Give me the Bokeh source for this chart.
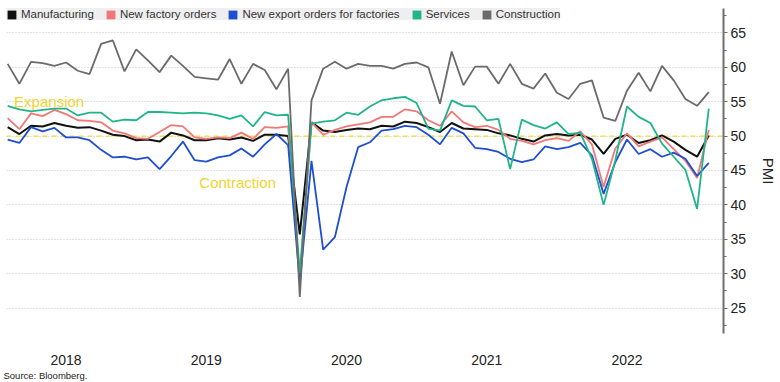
from bokeh.plotting import figure
from bokeh.models import (ColumnDataSource, Range1d, FixedTicker, SingleIntervalTicker,
                          Span, Label, Legend, LegendItem, Title)
from bokeh.embed import file_html
from bokeh.resources import INLINE

# Monthly China PMI data, Jan 2018 .. Jan 2023
years = ["2018", "2019", "2020", "2021", "2022"]
months = [f"{y}-{m:02d}" for y in range(2018, 2023) for m in range(1, 13)] + ["2023-01"]

manufacturing = [51.3, 50.3, 51.5, 51.4, 51.9, 51.5, 51.2, 51.3, 50.8, 50.2, 50.0, 49.4,
                 49.5, 49.2, 50.5, 50.1, 49.4, 49.4, 49.7, 49.5, 49.8, 49.3, 50.2, 50.2,
                 50.0, 35.7, 52.0, 50.8, 50.6, 50.9, 51.1, 51.0, 51.5, 51.4, 52.1, 51.9,
                 51.3, 50.6, 51.9, 51.1, 51.0, 50.9, 50.4, 50.1, 49.6, 49.2, 50.1, 50.3,
                 50.1, 50.2, 49.5, 47.4, 49.6, 50.2, 49.0, 49.4, 50.1, 49.2, 48.0, 47.0,
                 50.1]
new_orders = [52.6, 51.0, 53.3, 52.9, 53.8, 53.2, 52.3, 52.2, 52.0, 50.8, 50.4, 49.7,
              49.6, 50.6, 51.6, 51.4, 49.8, 49.6, 49.8, 49.7, 50.5, 49.6, 51.3, 51.2,
              51.4, 29.3, 52.0, 50.2, 50.9, 51.4, 51.7, 52.0, 52.8, 52.8, 53.9, 53.6,
              52.3, 51.5, 53.6, 52.0, 51.3, 51.5, 50.9, 49.6, 49.3, 48.8, 49.4, 49.7,
              49.3, 50.7, 48.8, 42.6, 48.2, 50.4, 48.5, 49.2, 49.8, 48.1, 46.4, 43.9,
              50.9]
export_orders = [49.5, 49.0, 51.3, 50.7, 51.2, 49.8, 49.8, 49.4, 48.0, 46.9, 47.0, 46.6,
                 46.9, 45.2, 47.1, 49.2, 46.5, 46.3, 46.9, 47.2, 48.2, 47.0, 48.8, 50.3,
                 48.7, 28.7, 46.4, 33.5, 35.3, 42.6, 48.4, 49.1, 50.8, 51.0, 51.5, 51.3,
                 50.2, 48.8, 51.2, 50.4, 48.3, 48.1, 47.7, 46.7, 46.2, 46.6, 48.5, 48.1,
                 48.4, 49.0, 47.2, 41.6, 46.2, 49.5, 47.4, 48.1, 47.0, 47.6, 46.7, 44.2,
                 46.1]
services = [54.4, 53.9, 53.6, 53.8, 54.0, 54.0, 53.0, 53.4, 53.4, 52.1, 52.4, 52.3,
            53.5, 53.5, 53.4, 53.3, 53.4, 53.3, 53.0, 52.5, 53.0, 51.4, 53.5, 53.0,
            53.1, 30.1, 51.8, 52.1, 52.3, 53.4, 53.1, 54.3, 55.2, 55.5, 55.7, 54.8,
            51.1, 50.8, 55.2, 54.4, 54.3, 52.3, 52.5, 45.2, 52.4, 51.6, 51.1, 52.0,
            50.3, 50.5, 46.7, 40.0, 46.5, 54.3, 52.8, 51.9, 48.9, 47.0, 45.1, 39.4,
            54.0]
construction = [60.5, 57.6, 60.8, 60.6, 60.2, 60.7, 59.5, 59.0, 63.4, 63.9, 59.4, 62.6,
                61.0, 59.3, 61.7, 60.2, 58.6, 58.4, 58.2, 61.2, 57.6, 60.5, 59.6, 56.8,
                59.8, 26.6, 55.2, 59.8, 60.8, 59.8, 60.5, 60.2, 60.2, 59.8, 60.5, 60.7,
                60.0, 54.7, 62.3, 57.4, 60.1, 60.1, 57.6, 60.5, 57.6, 56.9, 59.1, 56.3,
                55.4, 57.6, 58.1, 52.7, 52.2, 56.6, 59.2, 56.5, 60.2, 58.1, 55.4, 54.4,
                56.4]

series_names = ["Manufacturing", "New factory orders", "New export orders for factories",
                "Services", "Construction"]
series_values = [manufacturing, new_orders, export_orders, services, construction]
colors = ["#111111", "#f07878", "#1f4fd0", "#20b48a", "#6b6b6b"]
widths = [2, 1.8, 1.8, 1.8, 1.8]

FONT = "Liberation Sans"
NAN = float("nan")
x = list(range(len(months)))

p = figure(width=780, height=382, x_range=Range1d(-0.1, 61.26), y_range=Range1d(21.3, 68.55),
           output_backend="svg", toolbar_location=None, y_axis_location="right",
           min_border_left=6, min_border_top=8, min_border_right=53, min_border_bottom=49)
p.outline_line_color = None
p.background_fill_color = "white"
p.border_fill_color = "white"

# grid
p.xgrid.grid_line_color = None
p.ygrid.grid_line_color = "#c4c4c4"
p.ygrid.grid_line_dash = "1 2"

# y axis (right)
yax = p.yaxis[0]
yax.ticker = SingleIntervalTicker(interval=5, num_minor_ticks=2)
yax.axis_line_color = "#6f6f6f"
yax.axis_line_width = 2
yax.major_tick_line_color = "#6f6f6f"
yax.minor_tick_line_color = "#6f6f6f"
yax.major_tick_in = 0
yax.major_tick_out = 4
yax.minor_tick_in = 0
yax.minor_tick_out = 3
yax.major_label_text_font = FONT
yax.major_label_text_font_size = "14px"
yax.major_label_text_color = "#222222"
yax.major_label_standoff = 3
yax.axis_label = "PMI"
yax.axis_label_text_font = FONT
yax.axis_label_text_font_size = "15px"
yax.axis_label_text_font_style = "normal"
yax.axis_label_text_color = "#222222"
yax.axis_label_standoff = 11

# x axis (year labels)
xax = p.xaxis[0]
tick_pos = [12 * i + 5 for i in range(len(years))]
xax.ticker = FixedTicker(ticks=tick_pos)
xax.major_label_overrides = {t: y for t, y in zip(tick_pos, years)}
xax.axis_line_color = None
xax.major_tick_line_color = None
xax.minor_tick_line_color = None
xax.major_label_text_font = FONT
xax.major_label_text_font_size = "14px"
xax.major_label_text_color = "#222222"
xax.major_label_standoff = 15

# source note below the axis
p.add_layout(Title(text="Source: Bloomberg.", align="left", text_font=FONT,
                   text_font_size="9.5px", text_font_style="normal", text_color="#222222",
                   offset=-3, standoff=0), "below")

# 50 threshold
p.add_layout(Span(location=50, dimension="width", line_color="#f0dc3c",
                  line_dash="5 4", line_width=1.2, level="underlay"))

# lines
src = ColumnDataSource(dict(x=x, **{f"s{i}": v for i, v in enumerate(series_values)}))
for i, (c, w) in enumerate(zip(colors, widths)):
    p.line("x", f"s{i}", source=src, line_color=c, line_width=w)

# legend with square swatches (legend-only renderers, no visible data)
items = []
for name, c in zip(series_names, colors):
    r = p.quad(left=[NAN], right=[NAN], top=[NAN], bottom=[NAN], fill_color=c, line_color=None)
    items.append(LegendItem(label=name, renderers=[r]))
legend = Legend(items=items, location="top_left", orientation="horizontal", margin=0,
                padding=5, spacing=11, label_standoff=4, glyph_width=11, glyph_height=11,
                label_height=11, label_text_font=FONT, label_text_font_size="11.5px",
                label_text_color="#333333", background_fill_color="#efefef",
                background_fill_alpha=1, border_line_color=None)
p.add_layout(legend)

# annotations
p.add_layout(Label(x=0.55, y=55.1, text="Expansion", text_font=FONT, text_font_size="15px",
                   text_color="#f2d330", text_baseline="middle"))
p.add_layout(Label(x=16.4, y=43.3, text="Contraction", text_font=FONT, text_font_size="15px",
                   text_color="#f2d330", text_baseline="middle"))

open("out.html", "w").write(file_html(p, INLINE))
